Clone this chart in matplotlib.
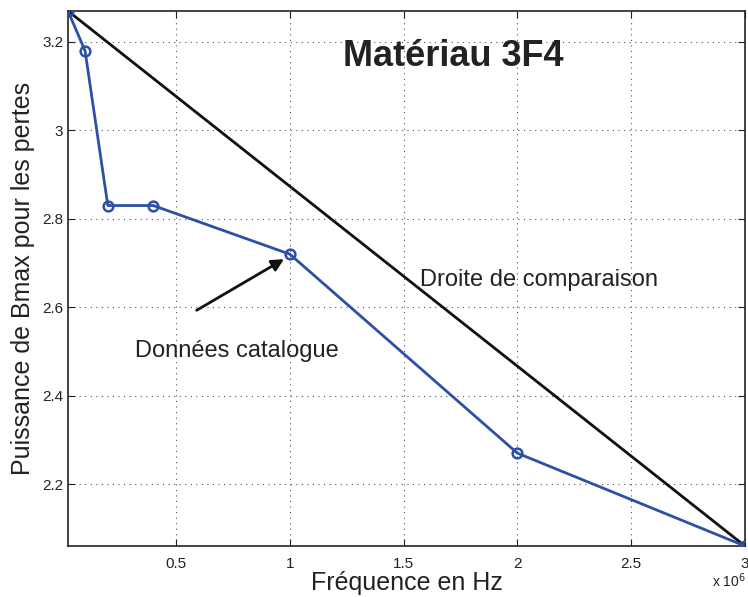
import matplotlib.pyplot as plt

plt.rcParams['font.family'] = ['Liberation Sans', 'DejaVu Sans']

# donnees
freq = [0.025e6, 0.1e6, 0.2e6, 0.4e6, 1e6, 2e6, 3e6]
puiss = [3.27, 3.18, 2.83, 2.83, 2.72, 2.27, 2.06]
xticks = [0.5e6, 1e6, 1.5e6, 2e6, 2.5e6, 3e6]
xtick_labels = ['0.5', '1', '1.5', '2', '2.5', '3']
yticks = [2.2, 2.4, 2.6, 2.8, 3.0, 3.2]
ytick_labels = ['2.2', '2.4', '2.6', '2.8', '3', '3.2']

fig = plt.figure(figsize=(7.48, 5.97), dpi=100)
ax = fig.add_axes([0.0909, 0.0854, 0.905, 0.8962])

ax.plot(freq, puiss, color='#2d4fa8', lw=2, marker='o', ms=7,
        mfc='none', mew=1.8, zorder=3)
ax.plot([freq[0], freq[-1]], [puiss[0], puiss[-1]], color='#111111', lw=2, zorder=2)

ax.set_xlim(freq[0], freq[-1])
ax.set_ylim(puiss[-1], puiss[0])
ax.set_xticks(xticks)
ax.set_xticklabels(xtick_labels)
ax.set_yticks(yticks)
ax.set_yticklabels(ytick_labels)
ax.tick_params(direction='in', top=True, right=True, labelsize=11, length=5,
               colors='#222222')
ax.tick_params(axis='x', pad=8)
ax.grid(True, linestyle=(0, (1, 4)), color='#555555', lw=0.8)
for s in ax.spines.values():
    s.set_linewidth(1.2)
    s.set_color('#222222')

ax.set_xlabel('Fréquence en Hz', fontsize=18, color='#222222', labelpad=0)
ax.set_ylabel('Puissance de Bmax pour les pertes', fontsize=18, color='#222222', labelpad=5)

fig.text(0.952, 0.016, 'x 10$^6$', fontsize=10, color='#222222', ha='left')

ax.text(1.72e6, 3.168, 'Matériau 3F4', fontsize=26, fontweight='bold',
        color='#222222', ha='center', va='center')
ax.text(1.573e6, 2.662, 'Droite de comparaison', fontsize=17, color='#222222',
        va='center')
ax.text(0.321e6, 2.502, 'Données catalogue', fontsize=17, color='#222222',
        va='center')
ax.annotate('', xy=(0.985e6, 2.712), xytext=(0.58e6, 2.59),
            arrowprops=dict(arrowstyle='-|>', color='#111111', lw=2,
                            mutation_scale=18))

fig.savefig('out.png', dpi=100)
